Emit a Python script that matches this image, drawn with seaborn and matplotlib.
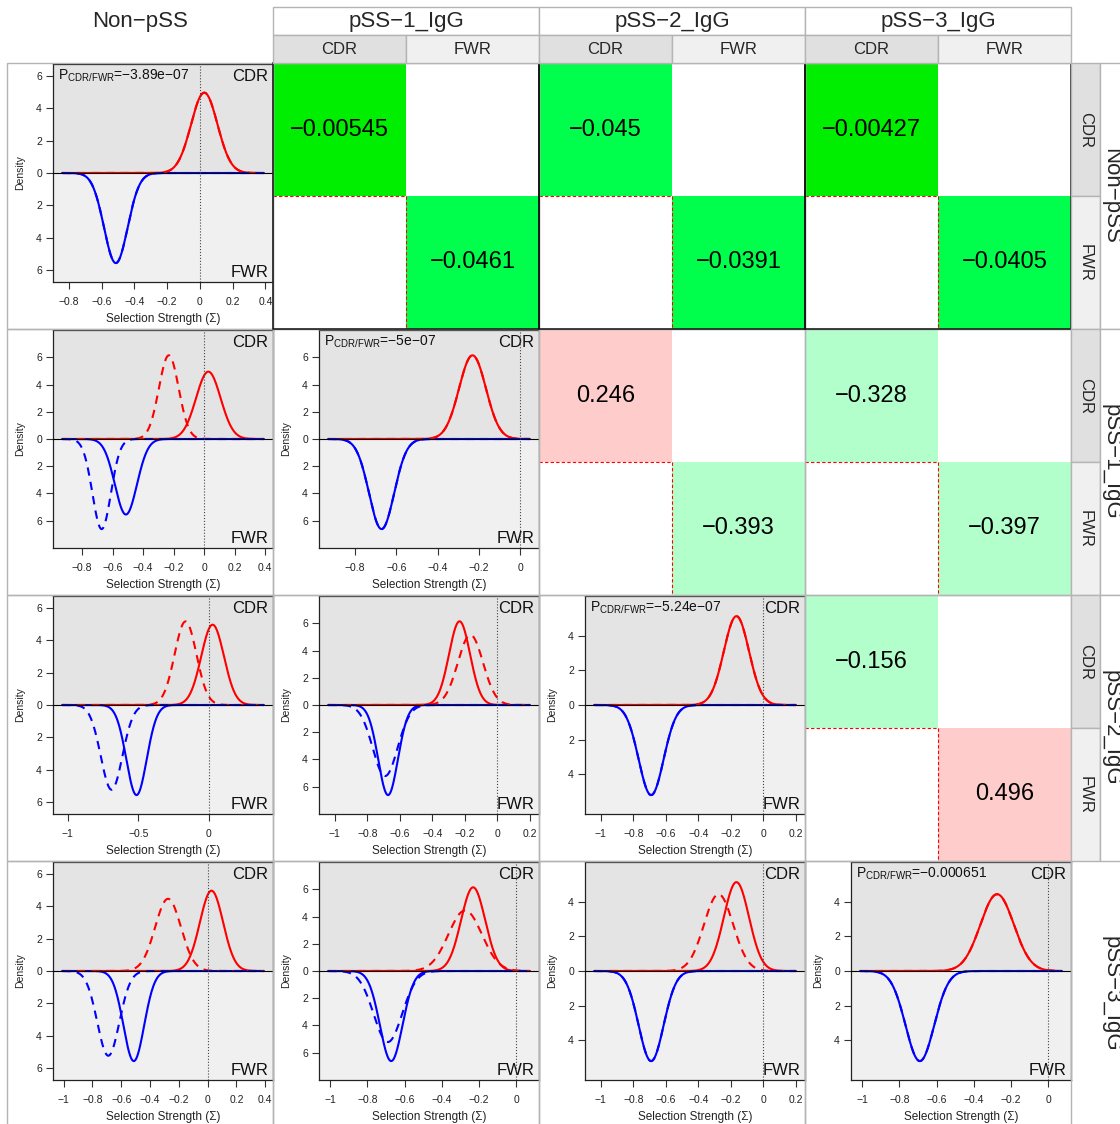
import numpy as np
import matplotlib
matplotlib.use("Agg")
import matplotlib.pyplot as plt
import seaborn as sns
from matplotlib.patches import Rectangle
from matplotlib.colors import ListedColormap
from matplotlib.ticker import MultipleLocator, FuncFormatter

# ── Data ──────────────────────────────────────────
groups    = ["Non\u2212pSS", "pSS\u22121_IgG", "pSS\u22122_IgG", "pSS\u22123_IgG"]
# selection strength densities: peak location and peak height per group
cdr_mean  = [0.027, -0.232, -0.165, -0.275]
cdr_peak  = [4.95, 6.15, 5.15, 4.45]
fwr_mean  = [-0.513, -0.672, -0.690, -0.690]
fwr_peak  = [5.55, 6.62, 5.22, 5.22]
# x extent over which each group's density is drawn
dens_lo   = [-0.84, -0.93, -1.04, -1.01]
dens_hi   = [0.39, 0.045, 0.20, 0.072]
p_cdr_fwr = ["\u22123.89e\u221207", "\u22125e\u221207", "\u22125.24e\u221207", "\u22120.000651"]

# pairwise comparisons shown in the upper triangle
pair_row  = [0, 0, 0, 1, 1, 2]
pair_col  = [1, 2, 3, 2, 3, 3]
pair_cdr  = [-0.00545, -0.045, -0.00427, 0.246, -0.328, -0.156]
pair_fwr  = [-0.0461, -0.0391, -0.0405, -0.393, -0.397, 0.496]

# ── Style ─────────────────────────────────────────
sns.set_theme(style="white")
plt.rcParams["font.family"] = ["Liberation Sans", "DejaVu Sans"]
plt.rcParams["mathtext.fontset"] = "custom"
plt.rcParams["mathtext.rm"] = "Liberation Sans"
plt.rcParams["axes.unicode_minus"] = True

W, H = 1120, 1124
fig = plt.figure(figsize=(W / 100, H / 100), dpi=100)
col_edges = [7, 273, 539, 805, 1071]
row_edges = [63, 329, 595, 861, 1127]
GRID = "#b4b4b4"


def px_axes(x0, y0, x1, y1, **kw):
    return fig.add_axes([x0 / W, 1 - y1 / H, (x1 - x0) / W, (y1 - y0) / H], **kw)


def density(mu, peak, xs):
    sd = 1 / (peak * np.sqrt(2 * np.pi))
    return peak * np.exp(-0.5 * ((xs - mu) / sd) ** 2)


def fmt_tick(v, _=None):
    v = round(v, 2)
    if v == 0:
        return "0"
    return f"{v:g}".replace("-", "\u2212")


def fmt_val(v):
    return f"{v:.3g}".replace("-", "\u2212")


def cell_color(v):
    if v > 0:
        return "#ffcccc"
    if abs(v) < 0.01:
        return "#00ee00"
    if abs(v) < 0.05:
        return "#00ff4c"
    return "#b3ffcc"


# ── Lower triangle + diagonal: density panels ─────
for i in range(4):
    for j in range(i + 1):
        cx0, cx1 = col_edges[j], col_edges[j + 1]
        cy0 = row_edges[i]
        ax = px_axes(cx0 + 46, cy0 + 1, cx1, cy0 + 219)

        lo = min(dens_lo[i], dens_lo[j])
        hi = max(dens_hi[i], dens_hi[j])
        xs = np.linspace(lo, hi, 500)
        m = max(cdr_peak[i], cdr_peak[j], fwr_peak[i], fwr_peak[j])
        ylim = 1.21 * m

        ax.axhspan(0, ylim, color="#e4e4e4", lw=0, zorder=0)
        ax.axhspan(-ylim, 0, color="#f0f0f0", lw=0, zorder=0)

        # solid = column group, dashed = row group
        for g, ls in ((j, "-"), (i, (0, (4, 3)))):
            sns.lineplot(x=xs, y=density(cdr_mean[g], cdr_peak[g], xs), ax=ax,
                         color="red", linestyle=ls, lw=1.5, estimator=None)
            sns.lineplot(x=xs, y=-density(fwr_mean[g], fwr_peak[g], xs), ax=ax,
                         color="blue", linestyle=ls, lw=1.5, estimator=None)
        ax.axhline(0, color="black", lw=0.8, zorder=5)
        ax.axvline(0, color="#444444", lw=0.8, ls=":", zorder=5)

        pad = 0.046 * (hi - lo)
        ax.set_xlim(lo - pad, hi + pad)
        ax.set_ylim(-ylim, ylim)
        ax.xaxis.set_major_locator(MultipleLocator(0.5 if (i, j) == (2, 0) else 0.2))
        ax.xaxis.set_major_formatter(FuncFormatter(fmt_tick))
        yt = [t for t in (-6, -4, -2, 0, 2, 4, 6) if abs(t) <= 1.1 * m]
        ax.set_yticks(yt)
        ax.set_yticklabels([str(abs(t)) for t in yt])
        ax.tick_params(axis="both", which="major", length=5, width=0.8,
                       labelsize=7.5, color="#333333", labelcolor="#222222",
                       bottom=True, left=True)
        ax.tick_params(axis="x", pad=6)
        ax.tick_params(axis="y", pad=3)
        for s in ax.spines.values():
            s.set_color("#222222")
            s.set_linewidth(0.9)

        ax.set_xlabel("Selection Strength (\u03a3)", fontsize=8.5, color="#222222")
        ax.xaxis.set_label_coords(0.5, -31 / 218)
        ax.set_ylabel("Density", fontsize=7.5, color="#222222")
        ax.yaxis.set_label_coords(-29 / 226, 0.5)

        ax.text(0.978, 0.977, "CDR", transform=ax.transAxes, ha="right",
                va="top", fontsize=12, color="#111111")
        ax.text(0.978, 0.023, "FWR", transform=ax.transAxes, ha="right",
                va="baseline", fontsize=12, color="#111111")
        if i == j:
            ax.text(0.022, 0.982, "P$_{\\mathrm{CDR/FWR}}$=" + p_cdr_fwr[i],
                    transform=ax.transAxes, ha="left", va="top",
                    fontsize=10, color="#111111")

# ── Upper triangle: coloured comparison cells ─────
frames = []
for k in range(len(pair_row)):
    i, j = pair_row[k], pair_col[k]
    cx0, cx1 = col_edges[j], col_edges[j + 1]
    cy0, cy1 = row_edges[i], row_edges[i + 1]
    ax = px_axes(cx0, cy0, cx1, cy1)
    cmap = ListedColormap([cell_color(pair_cdr[k]), cell_color(pair_fwr[k])])
    data = np.array([[0, np.nan], [np.nan, 1]])
    annot = np.array([[fmt_val(pair_cdr[k]), ""], ["", fmt_val(pair_fwr[k])]])
    sns.heatmap(data, ax=ax, cmap=cmap, vmin=-0.5, vmax=1.5, annot=annot,
                fmt="", cbar=False, xticklabels=False, yticklabels=False,
                annot_kws={"fontsize": 17, "color": "black"})
    ax.set_facecolor("white")
    ax.hlines(1, 0, 1, colors="red", linestyles=(0, (3, 2)), lw=0.8)
    ax.vlines(1, 1, 2, colors="red", linestyles=(0, (3, 2)), lw=0.8)
    # both regions strongly different -> dark frame
    if abs(pair_cdr[k]) < 0.05 and abs(pair_fwr[k]) < 0.05:
        frames.append((cx0, cy0))

# ── Overlay: frames, strips and labels ────────────
ov = px_axes(0, 0, W, H, zorder=10)
ov.set_xlim(0, W)
ov.set_ylim(H, 0)
ov.axis("off")
ov.patch.set_alpha(0)

for i in range(4):
    for j in range(4):
        ov.add_patch(Rectangle((col_edges[j], row_edges[i]), 266, 266,
                               fill=False, edgecolor=GRID, lw=1))
for x0, y0 in frames:
    ov.add_patch(Rectangle((x0, y0), 266, 266, fill=False, edgecolor="#111111", lw=1.1))

# column headers
ov.text(140, 21, groups[0], ha="center", va="center", fontsize=16)
for j in range(1, 4):
    x0 = col_edges[j]
    ov.add_patch(Rectangle((x0, 7), 266, 28, facecolor="white", edgecolor=GRID, lw=1))
    ov.add_patch(Rectangle((x0, 35), 133, 28, facecolor="#e0e0e0", edgecolor=GRID, lw=1))
    ov.add_patch(Rectangle((x0 + 133, 35), 133, 28, facecolor="#f0f0f0", edgecolor=GRID, lw=1))
    ov.text(x0 + 133, 21, groups[j], ha="center", va="center", fontsize=16)
    ov.text(x0 + 66.5, 49, "CDR", ha="center", va="center", fontsize=12)
    ov.text(x0 + 199.5, 49, "FWR", ha="center", va="center", fontsize=12)

# row headers
for i in range(4):
    y0 = row_edges[i]
    if i < 3:
        ov.add_patch(Rectangle((1071, y0), 29, 133, facecolor="#e0e0e0", edgecolor=GRID, lw=1))
        ov.add_patch(Rectangle((1071, y0 + 133), 29, 133, facecolor="#f0f0f0", edgecolor=GRID, lw=1))
        ov.add_patch(Rectangle((1100, y0), 30, 266, facecolor="white", edgecolor=GRID, lw=1))
        ov.text(1085.5, y0 + 66.5, "CDR", ha="center", va="center", rotation=270, fontsize=12)
        ov.text(1085.5, y0 + 199.5, "FWR", ha="center", va="center", rotation=270, fontsize=12)
    ov.text(1111, y0 + 133, groups[i], ha="center", va="center", rotation=270, fontsize=16)

fig.savefig("out.png", dpi=100)
plt.close(fig)
